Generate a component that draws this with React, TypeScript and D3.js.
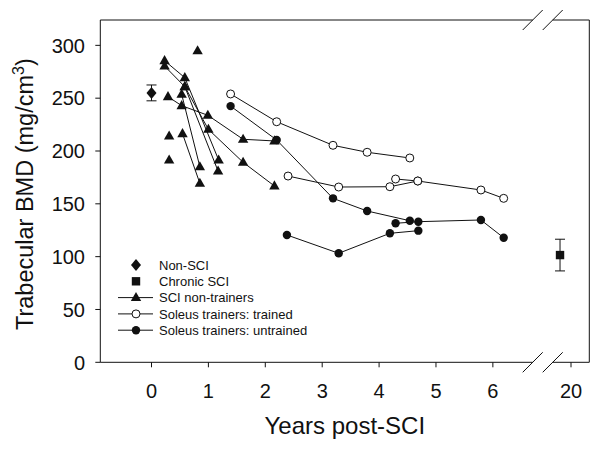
import React from "react";
import * as d3 from "d3";

// ---- data ----
const xTicksMain = [0, 1, 2, 3, 4, 5, 6];
const xTicksBreak = [20];
const yTicks = [0, 50, 100, 150, 200, 250, 300];

// Non-SCI (mean ± SD)
const nonSci = [{ year: 0, bmd: 255, err: 7.5 }];
// Chronic SCI (mean ± SD)
const chronicSci = [{ year: 19.7, bmd: 101.5, err: 15 }];

// SCI non-trainers: each subject a series of [years, BMD]
const nonTrainers: [number, number][][] = [
  [[0.23, 285.5], [0.585, 269.4], [1.18, 191.5]],
  [[0.23, 280.4], [0.585, 260.9], [1.17, 181.0]],
  [[0.29, 251.4], [0.53, 242.9], [0.99, 233.8], [1.61, 211.1], [2.16, 209.5]],
  [[0.585, 260.9], [1.0, 220.5], [1.61, 189.3], [2.16, 166.9]],
  [[0.53, 253.7], [0.85, 185.1]],
  [[0.545, 216.4], [0.85, 169.4]],
  [[0.81, 294.9]],
  [[0.31, 214.2]],
  [[0.31, 191.5]],
];

// Soleus trainers: trained limb
const trained: [number, number][][] = [
  [[1.39, 254.0], [2.2, 227.7], [3.19, 205.4], [3.79, 198.8], [4.54, 193.4]],
  [[2.4, 176.3], [3.29, 165.9], [4.19, 166.2], [4.68, 171.6]],
  [[4.29, 173.5], [4.68, 171.6], [5.79, 163.1], [6.19, 155.2]],
];

// Soleus trainers: untrained limb
const untrained: [number, number][][] = [
  [[1.39, 242.5], [2.2, 210.4], [3.19, 155.2], [3.79, 143.2], [4.54, 134.0]],
  [[2.38, 120.5], [3.29, 103.2], [4.19, 122.1], [4.69, 124.6]],
  [[4.29, 131.6], [4.69, 133.1], [5.79, 134.7], [6.19, 117.9]],
];

const legendItems = [
  { label: "Non-SCI", kind: "diamond", line: false },
  { label: "Chronic SCI", kind: "square", line: false },
  { label: "SCI non-trainers", kind: "triangle", line: true },
  { label: "Soleus trainers: trained", kind: "open", line: true },
  { label: "Soleus trainers: untrained", kind: "filled", line: true },
];

// ---- layout ----
const W = 600;
const H = 449;
const left = 100.3;
const right = 589.3;
const top = 20;
const bottom = 362.3;
const breakA = 532.7;
const breakB = 552.7;
const FONT = "Liberation Sans, Arial, Helvetica, sans-serif";
const INK = "#111";

const x = d3.scaleLinear().domain([-0.9, 6.7]).range([left, breakA]);
const xb = d3.scaleLinear().domain([19.5, 20.5]).range([breakB, right]);
const y = d3.scaleLinear().domain([0, 324]).range([bottom, top]);
const line = d3
  .line<[number, number]>()
  .x((d) => x(d[0]))
  .y((d) => y(d[1]));

function Marker({ kind, cx, cy }: { kind: string; cx: number; cy: number }) {
  if (kind === "triangle")
    return (
      <path
        d={`M${cx},${cy - 5.6}L${cx + 5.2},${cy + 3.5}L${cx - 5.2},${cy + 3.5}Z`}
        fill={INK}
      />
    );
  if (kind === "diamond")
    return (
      <path
        d={`M${cx},${cy - 6}L${cx + 5},${cy}L${cx},${cy + 6}L${cx - 5},${cy}Z`}
        fill={INK}
      />
    );
  if (kind === "square")
    return <rect x={cx - 4.2} y={cy - 4.2} width={8.4} height={8.4} fill={INK} />;
  if (kind === "open")
    return <circle cx={cx} cy={cy} r={4} fill="#fff" stroke={INK} strokeWidth={1} />;
  return <circle cx={cx} cy={cy} r={4.2} fill={INK} />;
}

function ErrorBar({ cx, yTop, yBot }: { cx: number; yTop: number; yBot: number }) {
  return (
    <g stroke={INK} strokeWidth={1}>
      <line x1={cx} x2={cx} y1={yTop} y2={yBot} />
      <line x1={cx - 5} x2={cx + 5} y1={yTop} y2={yTop} />
      <line x1={cx - 5} x2={cx + 5} y1={yBot} y2={yBot} />
    </g>
  );
}

function BreakMark({ cx, cy }: { cx: number; cy: number }) {
  return <line x1={cx - 10} y1={cy + 10} x2={cx + 10} y2={cy - 10} stroke={INK} strokeWidth={1} />;
}

export default function App() {
  const legendX = 136;
  const legendY0 = 265;
  const legendDy = 16.3;
  return (
    <svg
      width={W}
      height={H}
      style={{ position: "absolute", left: 0, top: 0, background: "#fff" }}
      fontFamily={FONT}
    >
      {/* frame with breaks */}
      <g stroke={INK} strokeWidth={1} fill="none">
        <line x1={left} x2={left} y1={top} y2={bottom} />
        <line x1={right} x2={right} y1={top} y2={bottom} />
        <line x1={left} x2={breakA} y1={bottom} y2={bottom} />
        <line x1={breakB} x2={right} y1={bottom} y2={bottom} />
        <line x1={left} x2={breakA} y1={top} y2={top} />
        <line x1={breakB} x2={right} y1={top} y2={top} />
      </g>
      <BreakMark cx={breakA} cy={bottom} />
      <BreakMark cx={breakB} cy={bottom} />
      <BreakMark cx={breakA} cy={top} />
      <BreakMark cx={breakB} cy={top} />

      {/* y axis ticks */}
      {yTicks.map((t) => (
        <g key={"y" + t}>
          <line x1={left - 5} x2={left} y1={y(t)} y2={y(t)} stroke={INK} />
          <text x={85} y={y(t)} dy="0.36em" textAnchor="end" fontSize={20} fill={INK}>
            {t}
          </text>
        </g>
      ))}
      {/* x axis ticks */}
      {xTicksMain.map((t) => (
        <g key={"x" + t}>
          <line x1={x(t)} x2={x(t)} y1={bottom} y2={bottom + 5} stroke={INK} />
          <text x={x(t)} y={398} textAnchor="middle" fontSize={20} fill={INK}>
            {t}
          </text>
        </g>
      ))}
      {xTicksBreak.map((t) => (
        <g key={"xb" + t}>
          <line x1={xb(t)} x2={xb(t)} y1={bottom} y2={bottom + 5} stroke={INK} />
          <text x={xb(t)} y={398} textAnchor="middle" fontSize={20} fill={INK}>
            {t}
          </text>
        </g>
      ))}

      {/* axis titles */}
      <text x={(left + right) / 2} y={434} textAnchor="middle" fontSize={24} fill={INK}>
        Years post-SCI
      </text>
      <text
        transform={`translate(33,${(top + bottom) / 2 + 3}) rotate(-90)`}
        textAnchor="middle"
        fontSize={23.5}
        fill={INK}
      >
        Trabecular BMD (mg/cm
        <tspan fontSize={16} dy={-9}>3</tspan>
        <tspan dy={9}>)</tspan>
      </text>

      {/* series lines */}
      <g fill="none" stroke={INK} strokeWidth={1}>
        {[...nonTrainers, ...trained, ...untrained].map((s, i) =>
          s.length > 1 ? <path key={"l" + i} d={line(s) || ""} /> : null
        )}
      </g>

      {/* markers */}
      {nonTrainers.map((s, i) =>
        s.map((d, j) => <Marker key={`t${i}-${j}`} kind="triangle" cx={x(d[0])} cy={y(d[1])} />)
      )}
      {untrained.map((s, i) =>
        s.map((d, j) => <Marker key={`u${i}-${j}`} kind="filled" cx={x(d[0])} cy={y(d[1])} />)
      )}
      {trained.map((s, i) =>
        s.map((d, j) => <Marker key={`o${i}-${j}`} kind="open" cx={x(d[0])} cy={y(d[1])} />)
      )}

      {/* Non-SCI and Chronic SCI with error bars */}
      {nonSci.map((d, i) => (
        <g key={"n" + i}>
          <ErrorBar cx={x(d.year)} yTop={y(d.bmd + d.err)} yBot={y(d.bmd - d.err)} />
          <Marker kind="diamond" cx={x(d.year)} cy={y(d.bmd)} />
        </g>
      ))}
      {chronicSci.map((d, i) => (
        <g key={"c" + i}>
          <ErrorBar cx={xb(d.year)} yTop={y(d.bmd + d.err)} yBot={y(d.bmd - d.err)} />
          <Marker kind="square" cx={xb(d.year)} cy={y(d.bmd)} />
        </g>
      ))}

      {/* legend */}
      {legendItems.map((it, i) => {
        const ly = legendY0 + i * legendDy;
        return (
          <g key={"lg" + i}>
            {it.line && (
              <line x1={legendX - 18} x2={legendX + 17} y1={ly} y2={ly} stroke={INK} strokeWidth={1} />
            )}
            <Marker kind={it.kind} cx={legendX} cy={ly} />
            <text x={159} y={ly} dy="0.36em" fontSize={13} fill={INK}>
              {it.label}
            </text>
          </g>
        );
      })}
    </svg>
  );
}
